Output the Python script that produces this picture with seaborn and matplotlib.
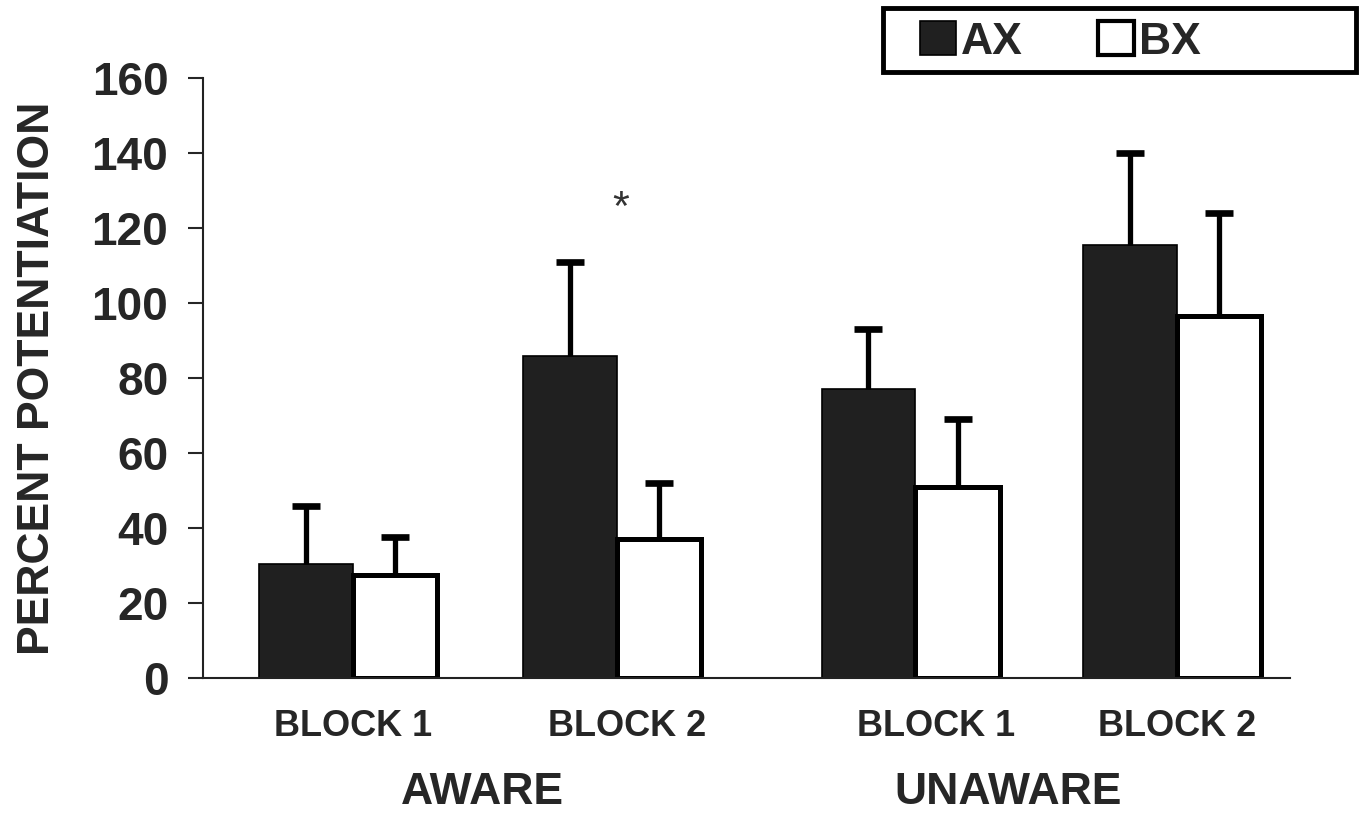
import numpy as np
import pandas as pd
import matplotlib
matplotlib.use("Agg")
import matplotlib.pyplot as plt
import matplotlib.transforms as mtransforms
from matplotlib.patches import Rectangle, Patch
import seaborn as sns

# ---- data -------------------------------------------------------------
conditions = ["AWARE", "UNAWARE"]
blocks = ["BLOCK 1", "BLOCK 2", "BLOCK 1", "BLOCK 2"]
cues = ["AX", "BX"]
ax_mean = [30.5, 86.0, 77.0, 115.5]
ax_sem = [15.5, 25.0, 16.0, 24.5]
bx_mean = [27.5, 37.0, 51.0, 96.5]
bx_sem = [10.0, 15.0, 18.0, 27.5]
y_ticks = [0, 20, 40, 60, 80, 100, 120, 140, 160]
significance = "*"

# ---- layout -----------------------------------------------------------
group_x = [0.0, 1.0, 2.13, 3.12]          # bar-pair centres
label_x = [0.0, 1.04, 2.21, 3.12]         # block label centres
cond_x = [0.49, 2.48]                     # condition label centres
star_pos = (1.015, 125)
bx_shrink = 0.9                           # open bars are drawn a touch narrower

sns.set_style("ticks")
plt.rcParams["font.family"] = ["Liberation Sans", "DejaVu Sans"]
plt.rcParams["font.weight"] = "bold"

fig = plt.figure(figsize=(13.61, 8.16), dpi=100)
ax = fig.add_axes([203 / 1361, 1 - 678 / 816, (1290 - 203) / 1361, (678 - 78) / 816])

df = pd.DataFrame({
    "pos": group_x * 2,
    "value": ax_mean + bx_mean,
    "sem": ax_sem + bx_sem,
    "cue": ["AX"] * 4 + ["BX"] * 4,
})

spacing = np.min(np.diff(group_x))
sns.barplot(
    data=df, x="pos", y="value", hue="cue", hue_order=cues,
    palette={"AX": "#202020", "BX": "white"},
    native_scale=True, width=0.71 / spacing, errorbar=None,
    legend=False, ax=ax, edgecolor="black", saturation=1,
)

sems = {"AX": ax_sem, "BX": bx_sem}
edge_w = {"AX": 1.2, "BX": 3.6}
for container, cue in zip(ax.containers, cues):
    xs, tops = [], []
    for bar in container:
        bar.set_linewidth(edge_w[cue])
        bar.set_edgecolor("black")
        if cue == "BX":
            bar.set_width(bar.get_width() * bx_shrink)
        xs.append(bar.get_x() + bar.get_width() / 2)
        tops.append(bar.get_height())
    se = sems[cue]
    _, caps, _ = ax.errorbar(xs, tops, yerr=[np.zeros(len(se)), se], fmt="none",
                             ecolor="black", elinewidth=3.8, capsize=10,
                             capthick=4.8, zorder=3)
    caps[0].set_visible(False)   # only the upper whisker carries a cap

ax.set_xlim(-0.568, 3.549)
ax.set_ylim(0, 160)
ax.set_yticks(y_ticks)
ax.set_yticklabels([str(t) for t in y_ticks], fontsize=33, fontweight="bold")
ax.set_xticks(label_x)
ax.set_xticklabels(blocks, fontsize=26, fontweight="bold")
ax.tick_params(axis="x", length=0, pad=22)
ax.tick_params(axis="y", length=11, width=1.5, pad=14, direction="out")
ax.set_xlabel("")
ax.set_ylabel("PERCENT POTENTIATION", fontsize=32, fontweight="bold", labelpad=24)
for side in ("top", "right"):
    ax.spines[side].set_visible(False)
for side in ("left", "bottom"):
    ax.spines[side].set_linewidth(1.5)
    ax.spines[side].set_color("#222222")

# condition labels below the block labels
trans = mtransforms.blended_transform_factory(ax.transData, fig.transFigure)
for cx, name in zip(cond_x, conditions):
    ax.text(cx, 1 - 793 / 816, name, transform=trans, ha="center", va="center",
            fontsize=32, fontweight="bold")

# significance marker
ax.text(star_pos[0], star_pos[1], significance, ha="center", va="center",
        fontsize=31, fontweight="normal", color="#333333")

# legend in a boxed strip at the top right
fig.patches.append(Rectangle((883 / 1361, 1 - 72 / 816), (1356 - 883) / 1361, 64 / 816,
                             transform=fig.transFigure, fill=False,
                             edgecolor="black", linewidth=3.5))
handles = [Patch(facecolor="#202020", edgecolor="black", linewidth=1.2, label="AX"),
           Patch(facecolor="white", edgecolor="black", linewidth=3.0, label="BX")]
fig.legend(handles=handles, loc="center left",
           bbox_to_anchor=(920 / 1361, 1 - 42 / 816), bbox_transform=fig.transFigure,
           ncol=2, frameon=False, prop={"size": 32, "weight": "bold"},
           handlelength=0.8, handleheight=0.8, handletextpad=0.12,
           columnspacing=1.7, borderpad=0, borderaxespad=0)

fig.savefig("out.png", dpi=100)
